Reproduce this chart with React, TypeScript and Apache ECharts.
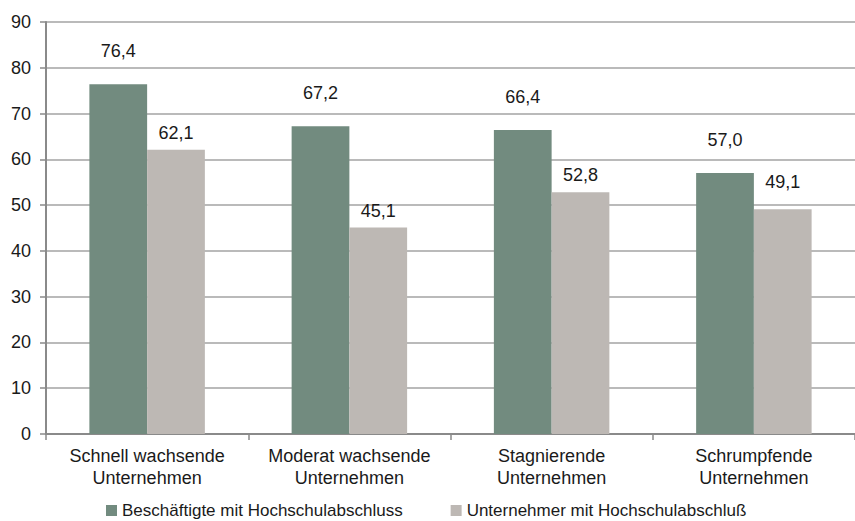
import React, { useEffect, useRef } from "react";
import * as echarts from "echarts";

const categories = [
  "Schnell wachsende\nUnternehmen",
  "Moderat wachsende\nUnternehmen",
  "Stagnierende\nUnternehmen",
  "Schrumpfende\nUnternehmen",
];
const seriesNames = ["Beschäftigte mit Hochschulabschluss", "Unternehmer mit Hochschulabschluß"];
const beschaeftigte = [76.4, 67.2, 66.4, 57.0];
const unternehmer = [62.1, 45.1, 52.8, 49.1];
const yTicks = { min: 0, max: 90, interval: 10 };

const FONT = "Liberation Sans, Arial, sans-serif";
const fmt = (v: number) => v.toFixed(1).replace(".", ",");

export default function App() {
  const ref = useRef<HTMLDivElement>(null);
  useEffect(() => {
    if (!ref.current) return;
    const chart = echarts.init(ref.current, undefined, { renderer: "svg" });
    const labelBase = {
      show: true,
      position: "top",
      fontFamily: FONT,
      fontSize: 18,
      color: "#1a1a1a",
      formatter: (p: any) => fmt(p.value),
    };
    chart.setOption({
      animation: false,
      backgroundColor: "#ffffff",
      grid: { left: 46, right: -10, top: 22, bottom: 87, containLabel: false },
      legend: {
        left: 106,
        top: 502,
        padding: 0,
        itemWidth: 11,
        itemHeight: 11,
        itemGap: 48,
        icon: "rect",
        textStyle: { fontFamily: FONT, fontSize: 17, color: "#1a1a1a" },
        data: seriesNames,
      },
      xAxis: {
        type: "category",
        data: categories,
        axisLine: { show: true, lineStyle: { color: "#8a8a8a", width: 2 } },
        axisTick: { show: true, length: 6, interval: 0, lineStyle: { color: "#8a8a8a", width: 1.5 } },
        axisLabel: {
          interval: 0,
          margin: 11,
          fontFamily: FONT,
          fontSize: 18,
          lineHeight: 22,
          color: "#1a1a1a",
        },
        splitLine: { show: false },
      },
      yAxis: {
        type: "value",
        min: yTicks.min,
        max: yTicks.max,
        interval: yTicks.interval,
        axisLine: { show: true, lineStyle: { color: "#8a8a8a", width: 2 } },
        axisTick: { show: true, length: 6, lineStyle: { color: "#8a8a8a", width: 1.5 } },
        axisLabel: { margin: 15, fontFamily: FONT, fontSize: 18, color: "#1a1a1a" },
        splitLine: { show: true, lineStyle: { color: "#a3a3a3", width: 1.5 } },
      },
      series: [
        {
          name: seriesNames[0],
          type: "bar",
          data: beschaeftigte,
          barGap: "0%",
          barCategoryGap: "42.9%",
          itemStyle: { color: "#728b7f" },
          label: { ...labelBase, distance: 24 },
        },
        {
          name: seriesNames[1],
          type: "bar",
          data: unternehmer.map((v, i) =>
            i === unternehmer.length - 1 ? { value: v, label: { distance: 18 } } : v
          ),
          barGap: "0%",
          barCategoryGap: "42.9%",
          itemStyle: { color: "#bdb8b4" },
          label: { ...labelBase, distance: 8 },
        },
      ],
    });
    return () => chart.dispose();
  }, []);
  return (
    <div
      ref={ref}
      style={{ position: "fixed", left: 0, top: 0, width: 855, height: 521 }}
    />
  );
}
